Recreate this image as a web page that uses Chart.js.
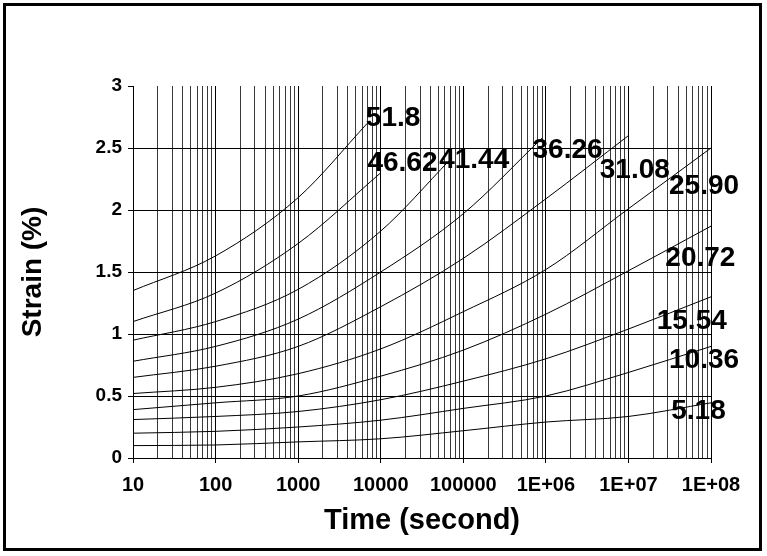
<!DOCTYPE html>
<html><head><meta charset="utf-8">
<script src="https://cdn.jsdelivr.net/npm/chart.js@4/dist/chart.umd.min.js"></script>
<style>
html,body{margin:0;padding:0;background:#fff}
#wrap{position:relative;width:767px;height:556px}
#frame{position:absolute;left:3px;top:3px;width:753px;height:542px;border:3.5px solid #000;pointer-events:none}
</style>
</head><body>
<div id="wrap"><canvas id="c" width="767" height="556"></canvas><div id="frame"></div></div>
<script>
// Tick labels
const xTickLabels = ['10','100','1000','10000','100000','1E+06','1E+07','1E+08'];
const yTickLabels = ['0','0.5','1','1.5','2','2.5','3'];
// Stress levels (curve labels)
const stressLabels = ['51.8','46.62','41.44','36.26','31.08','25.90','20.72','15.54','10.36','5.18'];
// Times (s) and strains (%) for each isochronous curve
const t_518  = [10,100,1000,6900];
const e_518  = [1.35,1.63,2.10,2.70];
const t_4662 = [10,100,1000,10000];
const e_4662 = [1.10,1.33,1.73,2.30];
const t_4144 = [10,100,1000,10000,68000];
const e_4144 = [0.95,1.10,1.36,1.83,2.40];
const t_3626 = [10,100,1000,1e4,1e5,9e5];
const e_3626 = [0.78,0.90,1.12,1.50,1.97,2.58];
const t_3108 = [10,100,1000,1e4,1e5,1e6,1e7];
const e_3108 = [0.65,0.74,0.90,1.22,1.61,2.09,2.60];
const t_full = [10,100,1000,1e4,1e5,1e6,1e7,1e8];
const e_2590 = [0.52,0.57,0.68,0.88,1.18,1.52,2.01,2.50];
const e_2072 = [0.39,0.445,0.50,0.66,0.87,1.16,1.51,1.87];
const e_1554 = [0.31,0.335,0.375,0.47,0.62,0.80,1.04,1.30];
const e_1036 = [0.20,0.215,0.25,0.305,0.40,0.50,0.69,0.90];
const e_518b = [0.10,0.105,0.13,0.155,0.22,0.29,0.335,0.445];
// Label anchor positions (time, strain) for the stress labels
const labelTime   = [6600,6900,51000,690000,4.5e6,3.1e7,2.8e7,2.2e7,3.1e7,3.3e7];
const labelStrain = [2.74,2.38,2.40,2.48,2.32,2.19,1.61,1.10,0.79,0.38];

const curveTimes  = [t_518,t_4662,t_4144,t_3626,t_3108,t_full,t_full,t_full,t_full,t_full];
const curveStrain = [e_518,e_4662,e_4144,e_3626,e_3108,e_2590,e_2072,e_1554,e_1036,e_518b];

const datasets = curveStrain.map((arr,i)=>({
  label: stressLabels[i],
  data: arr.map((v,j)=>({x:curveTimes[i][j], y:v})),
  borderColor:'#000', borderWidth:1, pointRadius:0, fill:false,
  cubicInterpolationMode:'monotone'
}));

const FONT = "'Liberation Sans', Arial, sans-serif";

const labelPlugin = {
  id:'stressLabels',
  afterDatasetsDraw(chart){
    const ctx = chart.ctx, xs = chart.scales.x, ys = chart.scales.y;
    ctx.save();
    ctx.font = "bold 28px " + FONT;
    ctx.fillStyle = '#000';
    ctx.textAlign = 'left';
    ctx.textBaseline = 'middle';
    stressLabels.forEach((s,i)=>{
      ctx.fillText(s, xs.getPixelForValue(labelTime[i]), ys.getPixelForValue(labelStrain[i]));
    });
    ctx.restore();
  }
};

new Chart(document.getElementById('c'), {
  type:'line',
  data:{datasets},
  plugins:[labelPlugin],
  options:{
    responsive:false, animation:false,
    layout:{padding:{left:14,right:56,top:86,bottom:16}},
    plugins:{legend:{display:false}, tooltip:{enabled:false}},
    scales:{
      x:{
        type:'logarithmic', min:10, max:1e8,
        afterBuildTicks(scale){
          const ticks=[];
          for(let d=0; d<xTickLabels.length; d++){
            const base = Number(xTickLabels[0]) * Math.pow(10,d);
            for(let m=1; m<=9; m++){
              const v = base*m;
              if (v > 1e8*1.0000001) break;
              ticks.push({value:v, major:m===1});
            }
          }
          scale.ticks = ticks;
        },
        afterFit(scale){ scale.height = 82; },
        ticks:{
          autoSkip:false, maxRotation:0, padding:10, color:'#000',
          font:{family:FONT, size:20, weight:'bold'},
          callback(v){
            const l = Math.log10(v);
            if (Math.abs(l-Math.round(l))<1e-9) return xTickLabels[Math.round(l)-1];
            return '';
          }
        },
        grid:{
          color:(c)=> (c.tick && c.tick.major) ? '#000' : '#3a3a3a',
          tickColor:(c)=> (c.tick && c.tick.major) ? '#000' : 'rgba(0,0,0,0)',
          tickLength:5, lineWidth:1
        },
        border:{display:true, color:'#000', width:1},
        title:{display:true, text:'Time (second)', color:'#000',
          font:{family:FONT, size:29, weight:'bold'}, padding:{top:2,bottom:2}}
      },
      y:{
        type:'linear', min:0, max:3,
        afterFit(scale){ scale.width = 119; },
        ticks:{
          stepSize:0.5, padding:6, color:'#000',
          font:{family:FONT, size:19, weight:'bold'},
          callback(v){ return yTickLabels[Math.round(v/0.5)]; }
        },
        grid:{
          color:(c)=> (c.tick && c.tick.value===3) ? 'rgba(0,0,0,0)' : '#000',
          tickColor:'#000', tickLength:5, lineWidth:1
        },
        border:{display:true, color:'#000', width:1},
        title:{display:true, text:'Strain (%)', color:'#000',
          font:{family:FONT, size:28, weight:'bold'}, padding:{top:2,bottom:2}}
      }
    }
  }
});
</script>
</body></html>
